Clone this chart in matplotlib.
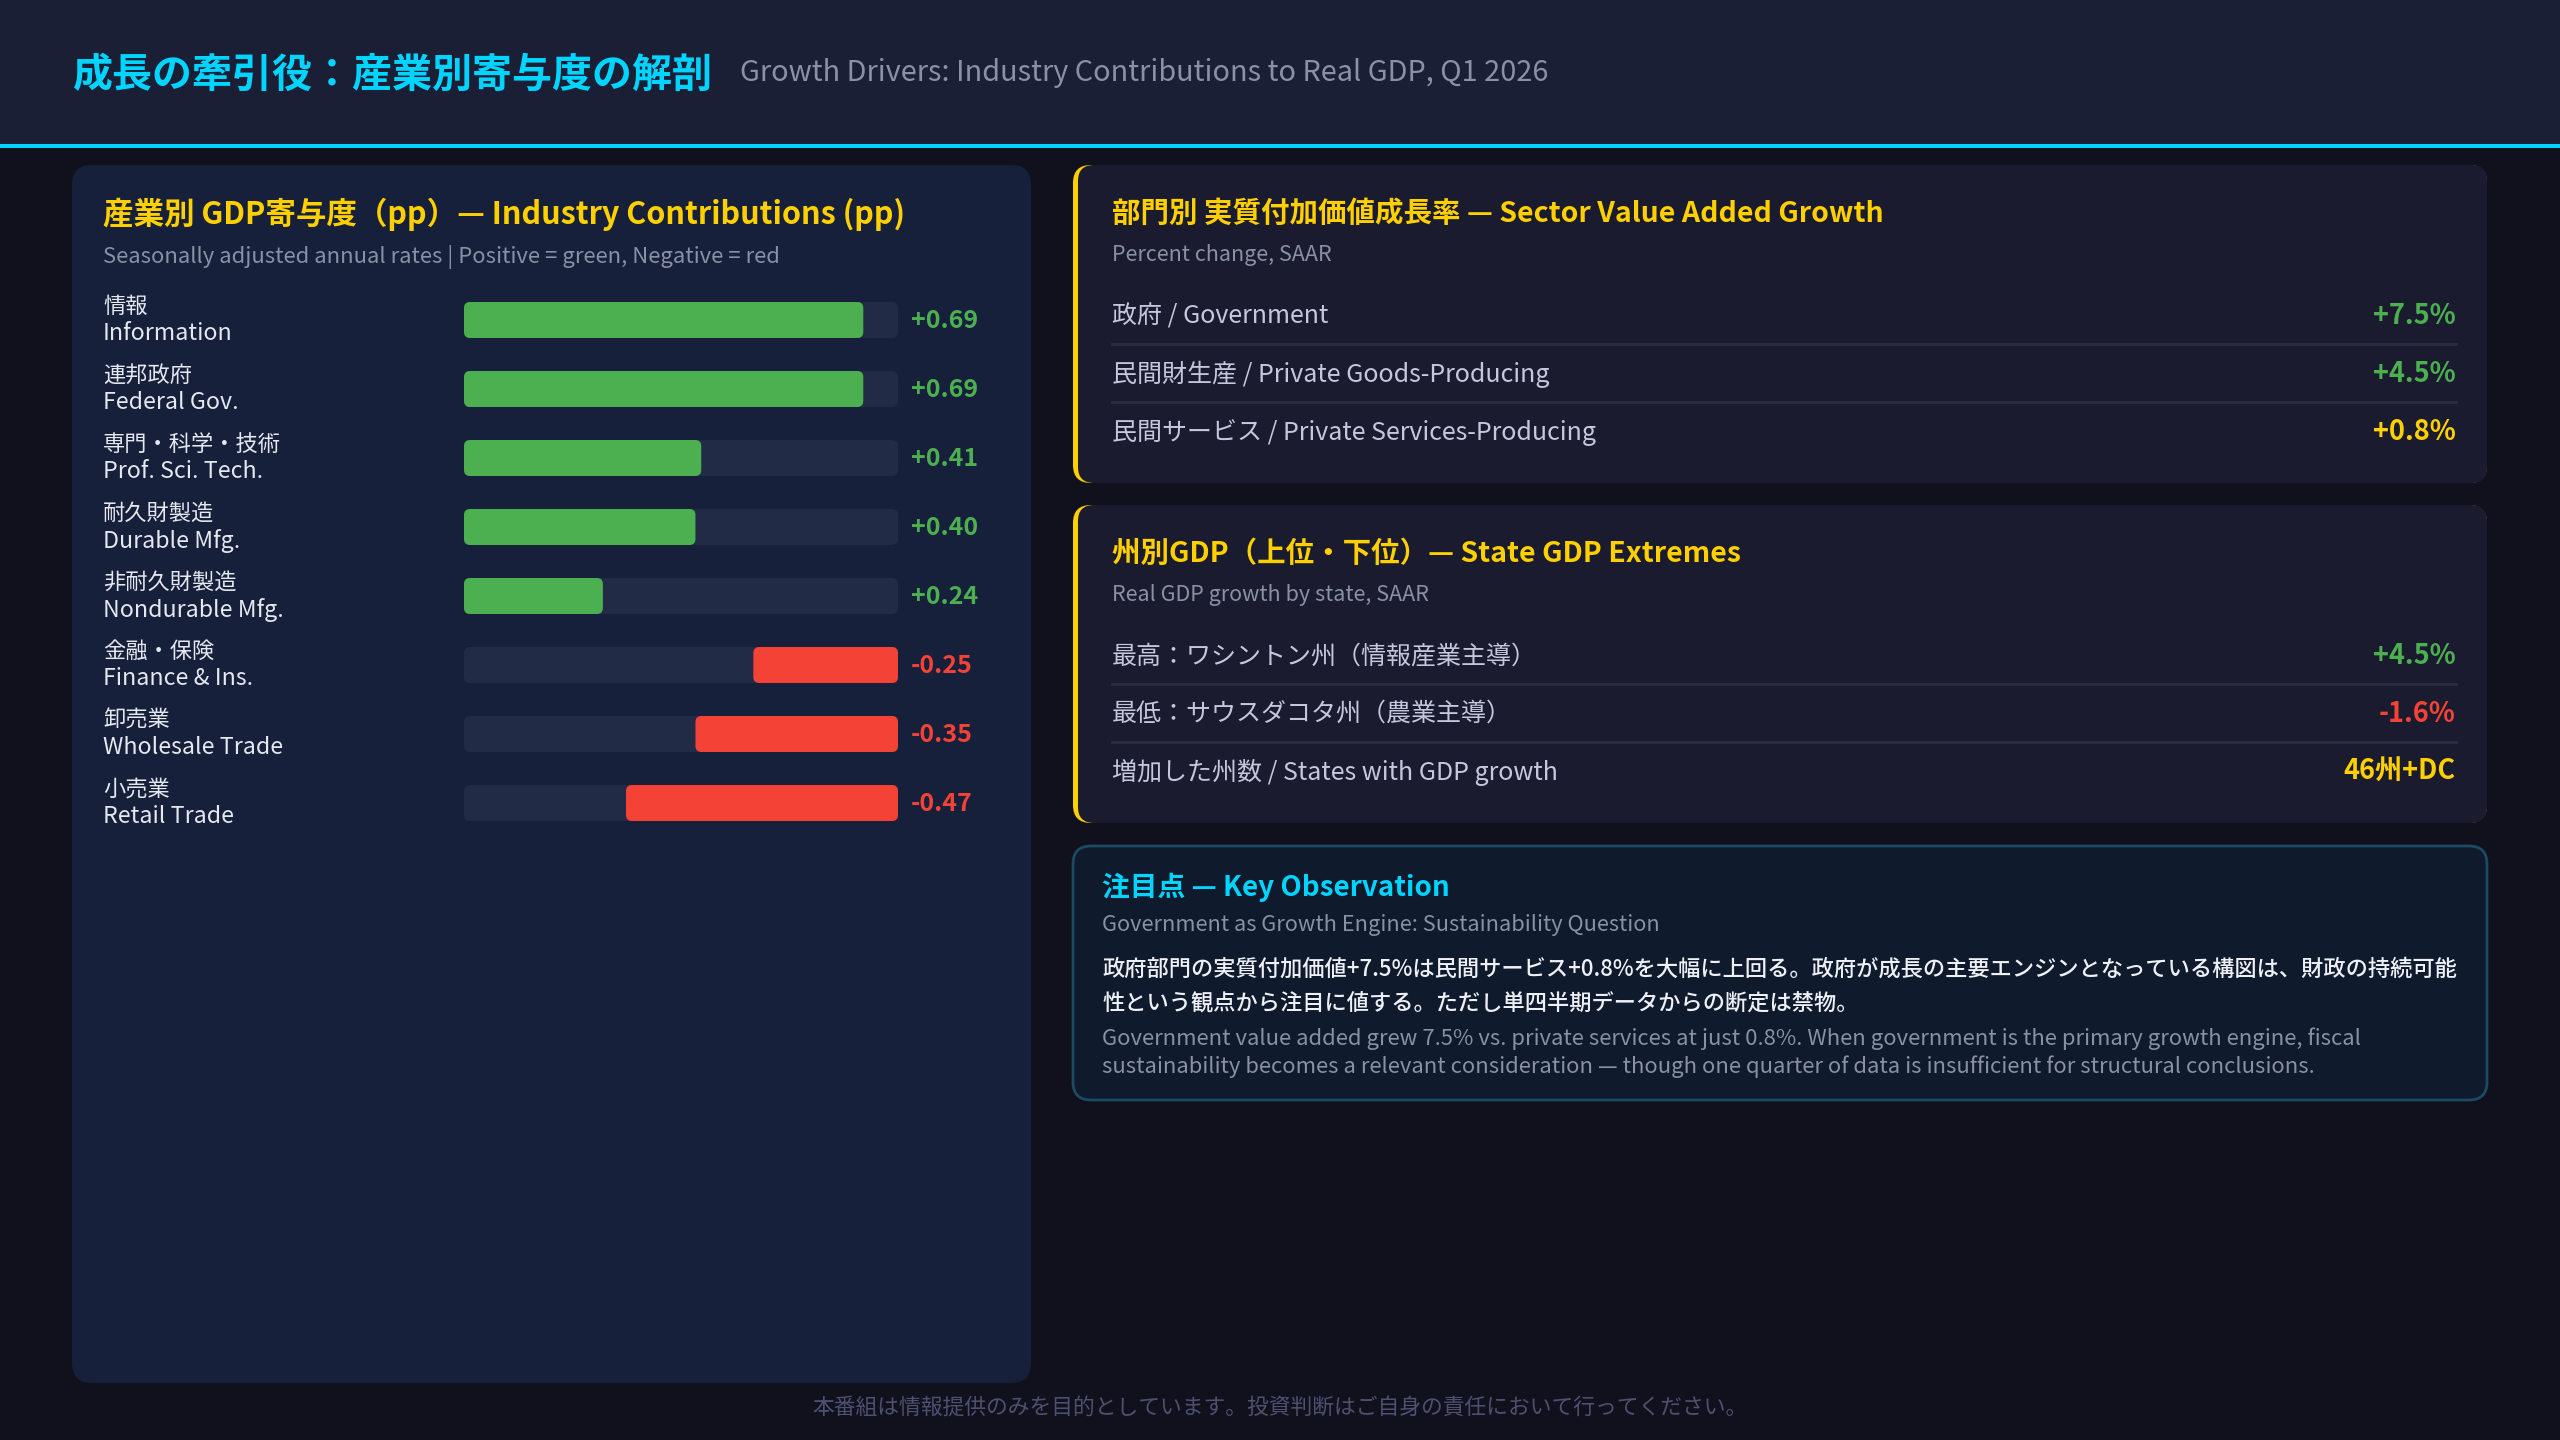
import matplotlib
matplotlib.use("Agg")
import matplotlib.pyplot as plt
from matplotlib.patches import FancyBboxPatch, Rectangle

plt.rcParams['font.family'] = ['Noto Sans CJK JP', 'DejaVu Sans']

# ---- data ----
industry_jp = ["情報", "連邦政府", "専門・科学・技術", "耐久財製造", "非耐久財製造",
               "金融・保険", "卸売業", "小売業"]
industry_en = ["Information", "Federal Gov.", "Prof. Sci. Tech.", "Durable Mfg.",
               "Nondurable Mfg.", "Finance & Ins.", "Wholesale Trade", "Retail Trade"]
contrib_pp = [0.69, 0.69, 0.41, 0.40, 0.24, -0.25, -0.35, -0.47]
scale_max = 0.75

sector_labels = ["政府 / Government", "民間財生産 / Private Goods-Producing",
                 "民間サービス / Private Services-Producing"]
sector_values = ["+7.5%", "+4.5%", "+0.8%"]
sector_kinds = ["pos", "pos", "mid"]

state_labels = ["最高：ワシントン州（情報産業主導）", "最低：サウスダコタ州（農業主導）",
                "増加した州数 / States with GDP growth"]
state_values = ["+4.5%", "-1.6%", "46州+DC"]
state_kinds = ["pos", "neg", "mid"]

obs_jp = ["政府部門の実質付加価値+7.5%は民間サービス+0.8%を大幅に上回る。政府が成長の主要エンジンとなっている構図は、財政の持続可能",
          "性という観点から注目に値する。ただし単四半期データからの断定は禁物。"]
obs_en = ["Government value added grew 7.5% vs. private services at just 0.8%. When government is the primary growth engine, fiscal",
          "sustainability becomes a relevant consideration — though one quarter of data is insufficient for structural conclusions."]

# ---- colours ----
BG = "#10111d"
HEADER = "#1a1f36"
CYAN = "#00d4ff"
YELLOW = "#ffd000"
LEFT_BG = "#16203a"
RIGHT_BG = "#1a1b2e"
TRACK = "#222b45"
GREEN = "#4caf50"
RED = "#f44336"
GRAY = "#8a90a6"
ROWTXT = "#c5c8dc"
SEP = "#2a2c40"
kind_color = {"pos": GREEN, "neg": RED, "mid": YELLOW}

W, H = 2560, 1440
fig = plt.figure(figsize=(25.6, 14.4), dpi=100, facecolor=BG)
ov = fig.add_axes([0, 0, 1, 1])
ov.set_xlim(0, W)
ov.set_ylim(H, 0)
ov.axis('off')
ov.set_facecolor(BG)


def rbox(x0, y0, x1, y1, color, r=18, z=1, ec='none', lw=0):
    p = FancyBboxPatch((x0, y0), x1 - x0, y1 - y0,
                       boxstyle=f"round,pad=0,rounding_size={r}",
                       fc=color, ec=ec, lw=lw, zorder=z)
    ov.add_patch(p)


# header
ov.add_patch(Rectangle((0, 0), W, 144, fc=HEADER, ec='none', zorder=1))
ov.add_patch(Rectangle((0, 144), W, 4, fc=CYAN, ec='none', zorder=2))
ov.text(72, 75, "成長の牽引役：産業別寄与度の解剖", color=CYAN, fontsize=28.8,
        fontweight='bold', va='center', ha='left', zorder=3)
ov.text(740, 73, "Growth Drivers: Industry Contributions to Real GDP, Q1 2026",
        color=GRAY, fontsize=20.8, va='center', ha='left', zorder=3)

# left panel
rbox(72, 165, 1031, 1383, LEFT_BG, r=20)
ov.text(103, 214, "産業別 GDP寄与度（pp）— Industry Contributions (pp)", color=YELLOW,
        fontsize=22, fontweight='bold', va='center', zorder=3)
ov.text(103, 257, "Seasonally adjusted annual rates | Positive = green, Negative = red",
        color=GRAY, fontsize=15.9, va='center', zorder=3)

# bar axes: track spans x 464..898, rows 69px apart starting at y=319
row_h = 69
n = len(contrib_pp)
top = 320 - row_h / 2
bx0, bx1 = 464, 898
ax = fig.add_axes([bx0 / W, 1 - (top + n * row_h) / H, (bx1 - bx0) / W, n * row_h / H])
ax.set_facecolor('none')
ax.set_xlim(0, scale_max)
ax.set_ylim(n - 0.5, -0.5)
ax.axis('off')
ys = list(range(n))
bh = 36 / row_h
px_per_x = (bx1 - bx0) / scale_max
aspect = px_per_x / row_h


def round_bars(container, z):
    # swap the plain rectangles for rounded ones of the same extent
    for rect in container:
        x, y = rect.get_xy()
        p = FancyBboxPatch((x, y), rect.get_width(), rect.get_height(),
                           boxstyle=f"round,pad=0,rounding_size={6 / px_per_x}",
                           mutation_aspect=aspect, fc=rect.get_facecolor(),
                           ec='none', zorder=z)
        ax.add_patch(p)
        rect.set_visible(False)


round_bars(ax.barh(ys, [scale_max] * n, height=bh, color=TRACK), 1)
tr = ax.get_yaxis_transform()
lx = (103 - bx0) / (bx1 - bx0)
vx = (911 - bx0) / (bx1 - bx0)
for i, v in enumerate(contrib_pp):
    if v >= 0:
        bars = ax.barh(i, v, left=0, height=bh, color=GREEN)
    else:
        bars = ax.barh(i, -v, left=scale_max + v, height=bh, color=RED)
    round_bars(bars, 2)
    ax.text(lx, i - 0.2, industry_jp[i], transform=tr, color="#e6e8f0", fontsize=16,
            va='center', ha='left', clip_on=False)
    ax.text(lx, i + 0.2, industry_en[i], transform=tr, color="#e6e8f0", fontsize=16.7,
            va='center', ha='left', clip_on=False)
    ax.text(vx, i + 0.02, f"{v:+.2f}", transform=tr, color=GREEN if v >= 0 else RED,
            fontsize=18, fontweight='bold', va='center', ha='left', clip_on=False)


def stat_panel(y0, y1, title, sub, labels, values, kinds):
    rbox(1073, y0, 2487, y1, YELLOW, r=18)
    rbox(1078, y0, 2487, y1, RIGHT_BG, r=16, z=1.5)
    ov.text(1112, y0 + 49, title, color=YELLOW, fontsize=20.5, fontweight='bold',
            va='center', zorder=3)
    ov.text(1112, y0 + 90, sub, color=GRAY, fontsize=15.5, va='center', zorder=3)
    for j, (lab, val, k) in enumerate(zip(labels, values, kinds)):
        yy = y0 + 151 + j * 58
        ov.text(1112, yy, lab, color=ROWTXT, fontsize=18, va='center', zorder=3)
        ov.text(2456, yy, val, color=kind_color[k], fontsize=19.5, fontweight='bold',
                va='center', ha='right', zorder=3)
        if j < len(labels) - 1:
            ov.plot([1112, 2456], [yy + 28, yy + 28], color=SEP, lw=2, zorder=3)


stat_panel(165, 483, "部門別 実質付加価値成長率 — Sector Value Added Growth",
           "Percent change, SAAR", sector_labels, sector_values, sector_kinds)
stat_panel(505, 823, "州別GDP（上位・下位）— State GDP Extremes",
           "Real GDP growth by state, SAAR", state_labels, state_values, state_kinds)

# key observation
rbox(1073, 846, 2487, 1100, "#0f1a2d", r=18, ec="#1c4a60", lw=2)
ov.text(1102, 887, "注目点 — Key Observation", color=CYAN, fontsize=20, fontweight='bold',
        va='center', zorder=3)
ov.text(1102, 925, "Government as Growth Engine: Sustainability Question", color=GRAY,
        fontsize=15.7, va='center', zorder=3)
for j, line in enumerate(obs_jp):
    ov.text(1102, 969 + j * 34, line, color="#eef0f6", fontsize=16, fontweight='medium',
            va='center', zorder=3)
for j, line in enumerate(obs_en):
    ov.text(1102, 1039 + j * 28, line, color=GRAY, fontsize=15.9, va='center', zorder=3)

# footer
ov.text(W / 2, 1408, "本番組は情報提供のみを目的としています。投資判断はご自身の責任において行ってください。",
        color="#4e5070", fontsize=15.7, va='center', ha='center', zorder=3)

fig.savefig("out.png", dpi=100, facecolor=BG)
